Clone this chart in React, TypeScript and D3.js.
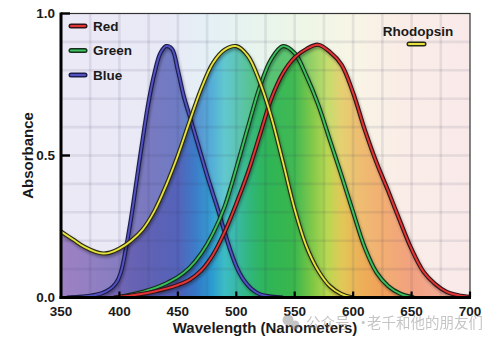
import React from "react";
import * as d3 from "d3";

const W = 501;
const H = 345;

// ---- data ----
const xTicks = [350, 400, 450, 500, 550, 600, 650, 700];
const yTicks = [0, 0.5, 1.0];
const yTickLabels = ["0.0", "0.5", "1.0"];
const xGrid = [375, 400, 425, 450, 475, 500, 525, 550, 575, 600, 625, 650, 675];
const yGrid = [0.1, 0.2, 0.3, 0.4, 0.5, 0.6, 0.7, 0.8, 0.9];

const blueCurve: [number, number][] = [
  [355, 0], [365, 0.002], [375, 0.006], [385, 0.015], [392, 0.03], [397, 0.05], [401, 0.085],
  [405, 0.16], [410, 0.28], [415, 0.42], [420, 0.56], [425, 0.69], [430, 0.79], [435, 0.86],
  [440, 0.885], [445, 0.875], [450, 0.8], [455, 0.71], [460, 0.64], [465, 0.57], [470, 0.5],
  [475, 0.43], [480, 0.365], [485, 0.3], [490, 0.23], [495, 0.165], [500, 0.11], [505, 0.07],
  [510, 0.043], [515, 0.024], [520, 0.012], [530, 0.003], [540, 0],
];

const rhodopsinCurve: [number, number][] = [
  [350, 0.232], [360, 0.205], [370, 0.178], [380, 0.16], [386, 0.155], [392, 0.158],
  [400, 0.172], [410, 0.2], [420, 0.24], [430, 0.305], [440, 0.395], [450, 0.5], [460, 0.62],
  [470, 0.735], [480, 0.825], [490, 0.872], [500, 0.885], [510, 0.85], [520, 0.76],
  [530, 0.635], [540, 0.475], [550, 0.31], [560, 0.18], [570, 0.095], [580, 0.04],
  [590, 0.012], [600, 0],
];

const greenCurve: [number, number][] = [
  [398, 0], [410, 0.01], [420, 0.02], [430, 0.033], [440, 0.05], [450, 0.072], [460, 0.105],
  [470, 0.155], [480, 0.225], [490, 0.32], [500, 0.455], [510, 0.6], [520, 0.74], [530, 0.84],
  [540, 0.885], [550, 0.86], [560, 0.78], [570, 0.68], [580, 0.555], [590, 0.43], [600, 0.3],
  [610, 0.175], [620, 0.088], [630, 0.04], [640, 0.014], [652, 0],
];

const redCurve: [number, number][] = [
  [395, 0], [410, 0.007], [420, 0.013], [430, 0.021], [440, 0.031], [450, 0.044], [460, 0.062],
  [470, 0.095], [480, 0.15], [490, 0.23], [500, 0.33], [510, 0.44], [520, 0.57], [530, 0.7],
  [540, 0.79], [550, 0.845], [560, 0.875], [570, 0.89], [580, 0.865], [590, 0.82], [600, 0.72],
  [610, 0.59], [620, 0.475], [630, 0.375], [640, 0.27], [650, 0.17], [660, 0.092],
  [670, 0.048], [680, 0.02], [690, 0.008], [700, 0.002],
];

const legendNames = ["Red", "Green", "Blue"];
const spectrumStops: [number, string][] = [
  [350, "#8864b6"], [390, "#7060b2"], [420, "#5c5ab0"], [450, "#4c5cb6"], [465, "#3476c6"],
  [478, "#2a98d0"], [490, "#3cbcc4"], [500, "#38b8a6"], [512, "#2eb678"], [525, "#2cb456"],
  [550, "#38b64a"], [565, "#7cc642"], [578, "#b6d64a"], [590, "#e0c650"], [605, "#ecae50"],
  [625, "#f09c52"], [650, "#f08c62"], [680, "#f09a80"], [700, "#f0a890"],
];
const tintStops: [number, string][] = [
  [350, "#ece9f6"], [440, "#e9e9f6"], [480, "#e4f1f5"], [520, "#e8f4ec"], [560, "#eef6e6"],
  [600, "#f8f5e6"], [640, "#faede7"], [700, "#f9eaea"],
];

const x = d3.scaleLinear().domain([350, 700]).range([61, 470]);
const y = d3.scaleLinear().domain([0, 1]).range([297.5, 13.5]);

const area = d3
  .area<[number, number]>()
  .x((d) => x(d[0]))
  .y0(y(0))
  .y1((d) => y(d[1]))
  .curve(d3.curveCatmullRom.alpha(0.5));
const line = d3
  .line<[number, number]>()
  .x((d) => x(d[0]))
  .y((d) => y(d[1]))
  .curve(d3.curveCatmullRom.alpha(0.5));

const series = [
  { name: "Rhodopsin", data: rhodopsinCurve, outline: "#2a2a18", inner: "#e6e23c" },
  { name: "Blue", data: blueCurve, outline: "#1c1c4c", inner: "#5252c2" },
  { name: "Green", data: greenCurve, outline: "#14301c", inner: "#3cc05e" },
  { name: "Red", data: redCurve, outline: "#30141a", inner: "#e63434" },
];
const lineOrder = ["Blue", "Green", "Red", "Rhodopsin"];
const font = "'Liberation Sans', Arial, sans-serif";

export default function App() {
  const get = (n: string) => series.find((s) => s.name === n)!;
  return (
    <svg
      width={W}
      height={H}
      style={{ position: "absolute", left: 0, top: 0, background: "#fff" }}
      fontFamily={font}
    >
      <defs>
        <linearGradient id="spec" gradientUnits="userSpaceOnUse" x1={x(350)} x2={x(700)} y1={0} y2={0}>
          {spectrumStops.map(([nm, c]) => (
            <stop key={nm} offset={(nm - 350) / 350} stopColor={c} />
          ))}
        </linearGradient>
        <linearGradient id="tint" gradientUnits="userSpaceOnUse" x1={x(350)} x2={x(700)} y1={0} y2={0}>
          {tintStops.map(([nm, c]) => (
            <stop key={nm} offset={(nm - 350) / 350} stopColor={c} />
          ))}
        </linearGradient>
        <filter id="shadow" x="-10%" y="-10%" width="120%" height="130%">
          <feDropShadow dx="1" dy="2" stdDeviation="1.4" floodColor="#000" floodOpacity="0.35" />
        </filter>
        <clipPath id="plotClip">
          <rect x={x(350)} y={y(1)} width={x(700) - x(350)} height={y(0) - y(1)} />
        </clipPath>
      </defs>

      {/* plot background */}
      <rect x={x(350)} y={y(1)} width={x(700) - x(350)} height={y(0) - y(1)} fill="url(#tint)" />

      <g clipPath="url(#plotClip)">
        {series.map((s) => (
          <path key={s.name} d={area(s.data)!} fill="url(#spec)" fillOpacity={0.78} />
        ))}
        {/* grid */}
        {xGrid.map((v) => (
          <line key={"gx" + v} x1={x(v)} x2={x(v)} y1={y(1)} y2={y(0)} stroke="#3c3c64" strokeOpacity={0.1} strokeWidth={2.6} />
        ))}
        {yGrid.map((v) => (
          <line key={"gy" + v} x1={x(350)} x2={x(700)} y1={y(v)} y2={y(v)} stroke="#3c3c64" strokeOpacity={0.1} strokeWidth={2.6} />
        ))}
        {lineOrder.map((n) => {
          const s = get(n);
          const d = line(s.data)!;
          return (
            <g key={"l" + n}>
              <path d={d} fill="none" stroke={s.outline} strokeWidth={4.2} strokeLinejoin="round" filter="url(#shadow)" />
              <path d={d} fill="none" stroke={s.inner} strokeWidth={1.9} strokeLinejoin="round" />
            </g>
          );
        })}
      </g>

      {/* frame */}
      <rect x={x(350)} y={y(1)} width={x(700) - x(350)} height={y(0) - y(1)} fill="none" stroke="#333" strokeWidth={1.2} />
      <line x1={x(350)} x2={x(350)} y1={y(1) - 1} y2={y(0) + 1.5} stroke="#000" strokeWidth={3} />
      <line x1={x(350) - 1.5} x2={x(700) + 1} y1={y(0)} y2={y(0)} stroke="#000" strokeWidth={3} />

      {/* ticks */}
      {yTicks.map((v, i) => (
        <g key={"yt" + v}>
          <line x1={x(350)} x2={x(350) + 9} y1={y(v)} y2={y(v)} stroke="#000" strokeWidth={2.4} />
          <text x={x(350) - 6} y={y(v)} dy="0.35em" textAnchor="end" fontSize={13.5} fontWeight="bold" fill="#1a1a1a">
            {yTickLabels[i]}
          </text>
        </g>
      ))}
      {xTicks.map((v) => (
        <g key={"xt" + v}>
          {v > 350 && <line x1={x(v)} x2={x(v)} y1={y(0)} y2={y(0) - 6} stroke="#000" strokeWidth={2.2} />}
          <text x={x(v)} y={316} textAnchor="middle" fontSize={13.5} fontWeight="bold" fill="#1a1a1a">
            {v}
          </text>
        </g>
      ))}

      {/* axis titles */}
      <text x={265} y={333} textAnchor="middle" fontSize={15} fontWeight="bold" fill="#1a1a1a">
        Wavelength (Nanometers)
      </text>
      <text transform={`translate(33,${y(0.5)}) rotate(-90)`} textAnchor="middle" fontSize={15} fontWeight="bold" fill="#1a1a1a">
        Absorbance
      </text>

      {/* legend */}
      {legendNames.map((n, i) => {
        const s = get(n);
        const ly = 26 + i * 24.5;
        return (
          <g key={"lg" + n}>
            <line x1={71} x2={85} y1={ly} y2={ly} stroke={s.outline} strokeWidth={5} strokeLinecap="round" />
            <line x1={71} x2={85} y1={ly} y2={ly} stroke={s.inner} strokeWidth={2.2} strokeLinecap="round" />
            <text x={93} y={ly} dy="0.36em" fontSize={13.5} fontWeight="bold" fill="#1a1a1a">
              {n}
            </text>
          </g>
        );
      })}
      <text x={418} y={31} dy="0.35em" textAnchor="middle" fontSize={13.5} fontWeight="bold" fill="#1a1a1a">
        Rhodopsin
      </text>
      <line x1={409} x2={424} y1={44} y2={44} stroke={get("Rhodopsin").outline} strokeWidth={5} strokeLinecap="round" />
      <line x1={409} x2={424} y1={44} y2={44} stroke={get("Rhodopsin").inner} strokeWidth={2.2} strokeLinecap="round" />

      {/* watermark */}
      <g opacity={0.5} fill="#8c8c8c" fontFamily="'Noto Sans CJK SC', sans-serif" fontSize={14.5}>
        <circle cx={288} cy={320} r={5.5} />
        <circle cx={295} cy={325} r={4.5} />
        <text x={306} y={328}>公众号</text>
        <text x={356} y={328}>·</text>
        <text x={367} y={328}>老千和他的朋友们</text>
      </g>
    </svg>
  );
}
